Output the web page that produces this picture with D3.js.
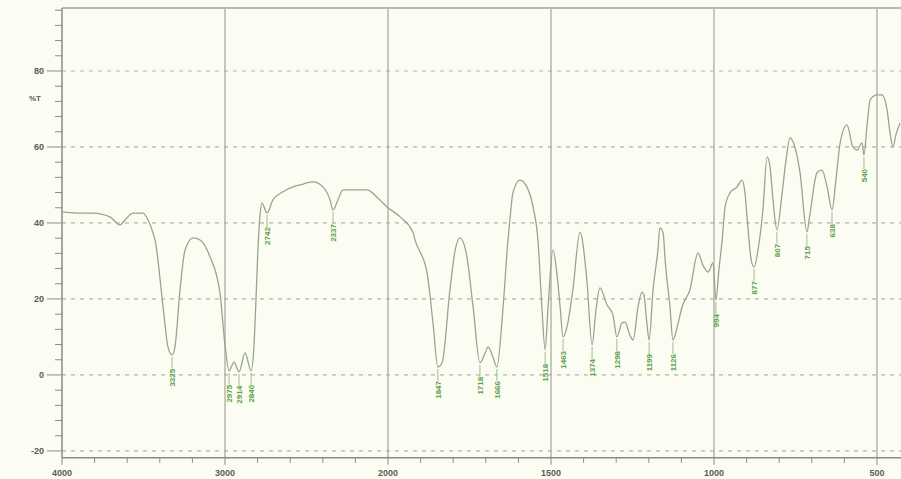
<!DOCTYPE html>
<html><head><meta charset="utf-8">
<script src="https://cdn.jsdelivr.net/npm/d3@7"></script>
<style>html,body{margin:0;padding:0;background:#fcfdf2;overflow:hidden}</style>
</head><body>
<svg id="c" width="901" height="479"></svg>
<script>
// wavenumber (cm-1) of each traced point
const wavenumbers = [4000,3908,3810,3706,3644,3613,3564,3503,3472,3442,3429,3380,3350,3325,3307,3276,3245,3196,3153,3092,3031,3000,2975,2945,2914,2877,2840,2822,2810,2798,2785,2773,2742,2706,2644,2583,2540,2460,2399,2356,2337,2307,2276,2129,2067,2006,
1963,1923,1917,1880,1862,1847,1834,1810,1794,1779,1758,1739,1718,1702,1693,1678,1666,1647,1632,1626,1617,1595,1574,1555,1540,1528,1518,1509,1494,1482,1472,1463,1451,1433,1411,1390,1374,1362,1350,1328,1310,1298,1282,1273,1258,1248,1233,1221,1215,1206,1199,1187,1172,1166,1156,1150,1135,1126,1113,1098,1074,1049,1034,1018,1003,994,985,975,966,951,929,914,905,896,886,877,865,850,837,828,819,807,791,779,767,752,736,715,706,684,669,653,638,626,613,592,574,561,546,540,531,521,500,485,469,460,451,442,429];
// transmittance (%T) of each traced point
const transmittance = [42.9,42.6,42.6,41.6,39.5,40.8,42.6,42.6,40.8,37.4,35.5,17.9,7.4,5.3,7.4,22.4,32.9,36.1,35.5,31.1,21.6,7.9,1.1,3.4,0.8,5.8,1.1,7.9,19.7,32.9,42.1,45.3,42.6,46.1,48.2,49.5,50,50.8,49.5,46.1,43.4,46.1,48.7,48.7,46.8,44.2,
41.6,37.4,35.5,26.8,13.7,2.1,3.2,22.4,32.9,36.1,31.1,17.9,3.2,5.8,7.4,4.7,2.1,17.9,35.5,40.8,47.9,51.3,49.5,44.2,35.5,17.9,6.6,17.9,32.9,26.8,17.9,10,12.6,22.4,37.6,25,7.9,17.1,22.9,18.4,15.8,10,13.7,13.9,10.5,9.2,17.9,21.8,21.1,13.7,9.2,22.4,32.9,38.7,37.4,30.3,17.9,9.2,12.6,17.9,22.4,32.1,28.9,27.1,29.5,19.7,27.6,35.5,44.2,47.9,49.5,51.3,47.9,38.9,30.3,28.4,32.9,43.4,57.4,54.7,46.1,38.2,47.9,56.6,62.4,60,53.2,37.6,42.1,53.2,53.9,49.5,43.4,51.3,61.1,65.8,60,59.2,61.1,57.9,65.3,72.4,73.7,73.7,69.7,63.7,60,63.2,66.3];
// labelled band positions
const peakWavenumbers = [3325,2975,2914,2840,2742,2337,1847,1718,1666,1518,1463,1374,1298,1199,1126,994,877,807,715,638,540];
const xTickLabels = [4000,3000,2000,1500,1000,500];
const yTickLabels = [80,60,40,20,0,-20];

const svg = d3.select("#c");
const x = d3.scaleLinear().domain([4000,2000,400]).range([62,388,909.6]);
const y = d3.scaleLinear().domain([-21.8,96.6]).range([457.8,7.9]);
const L = 62, R = 901, T = y(96.6), B = y(-21.8);

svg.append("rect").attr("x",0).attr("y",0).attr("width",901).attr("height",479).attr("fill","#fcfdf2");

// horizontal dashed grid
svg.append("g").selectAll("line").data(yTickLabels).join("line")
  .attr("x1",L).attr("x2",R).attr("y1",d=>y(d)).attr("y2",d=>y(d))
  .attr("stroke","#b4b6aa").attr("stroke-width",1.2).attr("stroke-dasharray","4,5");
// vertical solid grid
svg.append("g").selectAll("line").data(xTickLabels.slice(1)).join("line")
  .attr("x1",d=>x(d)).attr("x2",d=>x(d)).attr("y1",T).attr("y2",B)
  .attr("stroke","#a3a59a").attr("stroke-width",1.2);

// top border
svg.append("line").attr("x1",L).attr("x2",R).attr("y1",T).attr("y2",T).attr("stroke","#b9bbae").attr("stroke-width",2);

// left axis
const yMinor = d3.range(-20,97,4);
svg.append("g").selectAll("line").data(yMinor).join("line")
  .attr("x1",d=>yTickLabels.includes(d)?47:55).attr("x2",L).attr("y1",d=>y(d)).attr("y2",d=>y(d))
  .attr("stroke","#8a8c82").attr("stroke-width",1);
svg.append("line").attr("x1",L).attr("x2",L).attr("y1",T).attr("y2",B).attr("stroke","#8a8c82").attr("stroke-width",1.5);
svg.append("g").selectAll("text").data(yTickLabels).join("text")
  .attr("x",44).attr("y",d=>y(d)+3).attr("text-anchor","end")
  .attr("font-family","Liberation Sans, Arial, sans-serif").attr("font-size",9).attr("font-weight","bold")
  .attr("fill","#5a5c56").text(d=>d);
svg.append("text").attr("x",35).attr("y",y(73)+3).attr("text-anchor","middle")
  .attr("font-family","Liberation Sans, Arial, sans-serif").attr("font-size",8).attr("font-weight","bold")
  .attr("fill","#5a5c56").text("%T");

// bottom axis
svg.append("line").attr("x1",L).attr("x2",R).attr("y1",B).attr("y2",B).attr("stroke","#8a8c82").attr("stroke-width",1.5);
const xMinor = d3.range(4000,1999,-200).concat(d3.range(1900,399,-100));
svg.append("g").selectAll("line").data(xMinor).join("line")
  .attr("x1",d=>x(d)).attr("x2",d=>x(d)).attr("y1",B).attr("y2",d=>xTickLabels.includes(d)?B+7:B+5)
  .attr("stroke","#8a8c82").attr("stroke-width",1);
svg.append("g").selectAll("text").data(xTickLabels).join("text")
  .attr("x",d=>x(d)).attr("y",476).attr("text-anchor","middle")
  .attr("font-family","Liberation Sans, Arial, sans-serif").attr("font-size",9).attr("font-weight","bold")
  .attr("fill","#5a5c56").text(d=>d);

// spectrum
const pts = wavenumbers.map((w,i)=>[w,transmittance[i]]);
svg.append("path").datum(pts)
  .attr("d",d3.line().x(d=>x(d[0])).y(d=>y(d[1])).curve(d3.curveMonotoneX))
  .attr("fill","none").attr("stroke","#97a68b").attr("stroke-width",1.3);

// peak labels
const pk = svg.append("g");
peakWavenumbers.forEach(w=>{
  const i = wavenumbers.indexOf(w);
  const px = x(w), py = y(transmittance[i]);
  pk.append("line").attr("x1",px).attr("x2",px).attr("y1",py+2).attr("y2",py+14)
    .attr("stroke","#a6b79b").attr("stroke-width",1);
  pk.append("text").attr("transform",`translate(${px+3},${py+14}) rotate(-90)`)
    .attr("text-anchor","end").attr("font-family","Liberation Sans, Arial, sans-serif")
    .attr("font-size",8).attr("font-weight","bold").attr("fill","#62a04c").text(w);
});
</script>
</body></html>
